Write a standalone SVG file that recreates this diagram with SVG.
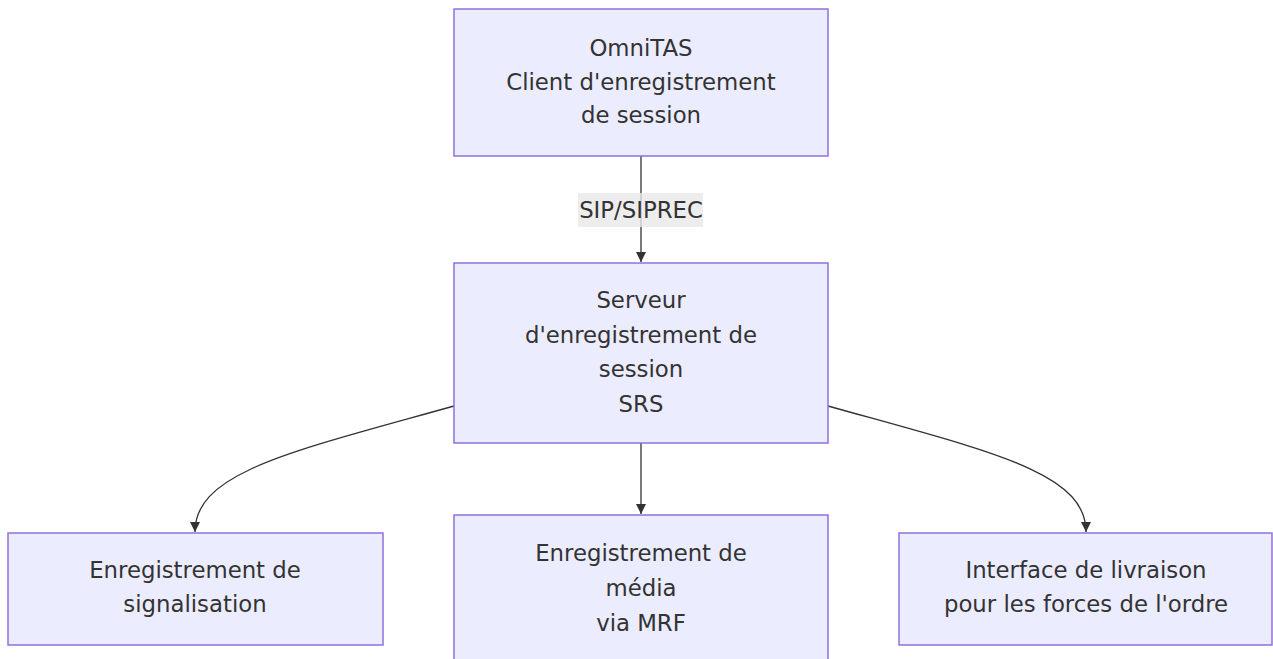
<svg xmlns="http://www.w3.org/2000/svg" width="1273" height="659" viewBox="0 0 1273 659">
<style>
.node rect{fill:#ECECFF;stroke:#9370DB;stroke-width:1.5}
.node text,.lbl text{font-family:"DejaVu Sans",sans-serif;font-size:22.8px;fill:#333;text-anchor:middle;dominant-baseline:central}
.edge{fill:none;stroke:#333;stroke-width:1.3}
.lbl rect{fill:#e8e8e8;opacity:0.8}
</style>
<defs>
<marker id="arr" viewBox="0 0 10 10" refX="10" refY="5" markerWidth="10" markerHeight="10" markerUnits="userSpaceOnUse" orient="auto">
<path d="M0,0 L10,5 L0,10 z" fill="#333"/>
</marker>
</defs>
<rect width="1273" height="659" fill="#fff"/>
<g id="connectors">
<path class="edge" d="M641,156 L641,262" marker-end="url(#arr)"/>
<path class="edge" d="M641,443 L641,514" marker-end="url(#arr)"/>
<path class="edge" d="M454,406 C290,452 195,472 195,532" marker-end="url(#arr)"/>
<path class="edge" d="M828,406 C992,452 1086,472 1086,532" marker-end="url(#arr)"/>
<g class="lbl"><rect x="578" y="193" width="125" height="34"/><text x="641" y="210">SIP/SIPREC</text></g>
</g>
<g id="client" class="node"><rect x="454" y="9" width="374" height="147"/>
<text x="641" y="48">OmniTAS</text><text x="641" y="82">Client d'enregistrement</text><text x="641" y="115">de session</text></g>
<g id="srs" class="node"><rect x="454" y="263" width="374" height="180"/>
<text x="641" y="300">Serveur</text><text x="641" y="335">d'enregistrement de</text><text x="641" y="369">session</text><text x="641" y="404">SRS</text></g>
<g id="signal" class="node"><rect x="8" y="533" width="375" height="112"/>
<text x="195" y="570">Enregistrement de</text><text x="195" y="604">signalisation</text></g>
<g id="media" class="node"><rect x="454" y="515" width="374" height="146"/>
<text x="641" y="553">Enregistrement de</text><text x="641" y="588">média</text><text x="641" y="623">via MRF</text></g>
<g id="lawful" class="node"><rect x="899" y="533" width="373" height="112"/>
<text x="1086" y="570">Interface de livraison</text><text x="1086" y="604">pour les forces de l'ordre</text></g>
</svg>
